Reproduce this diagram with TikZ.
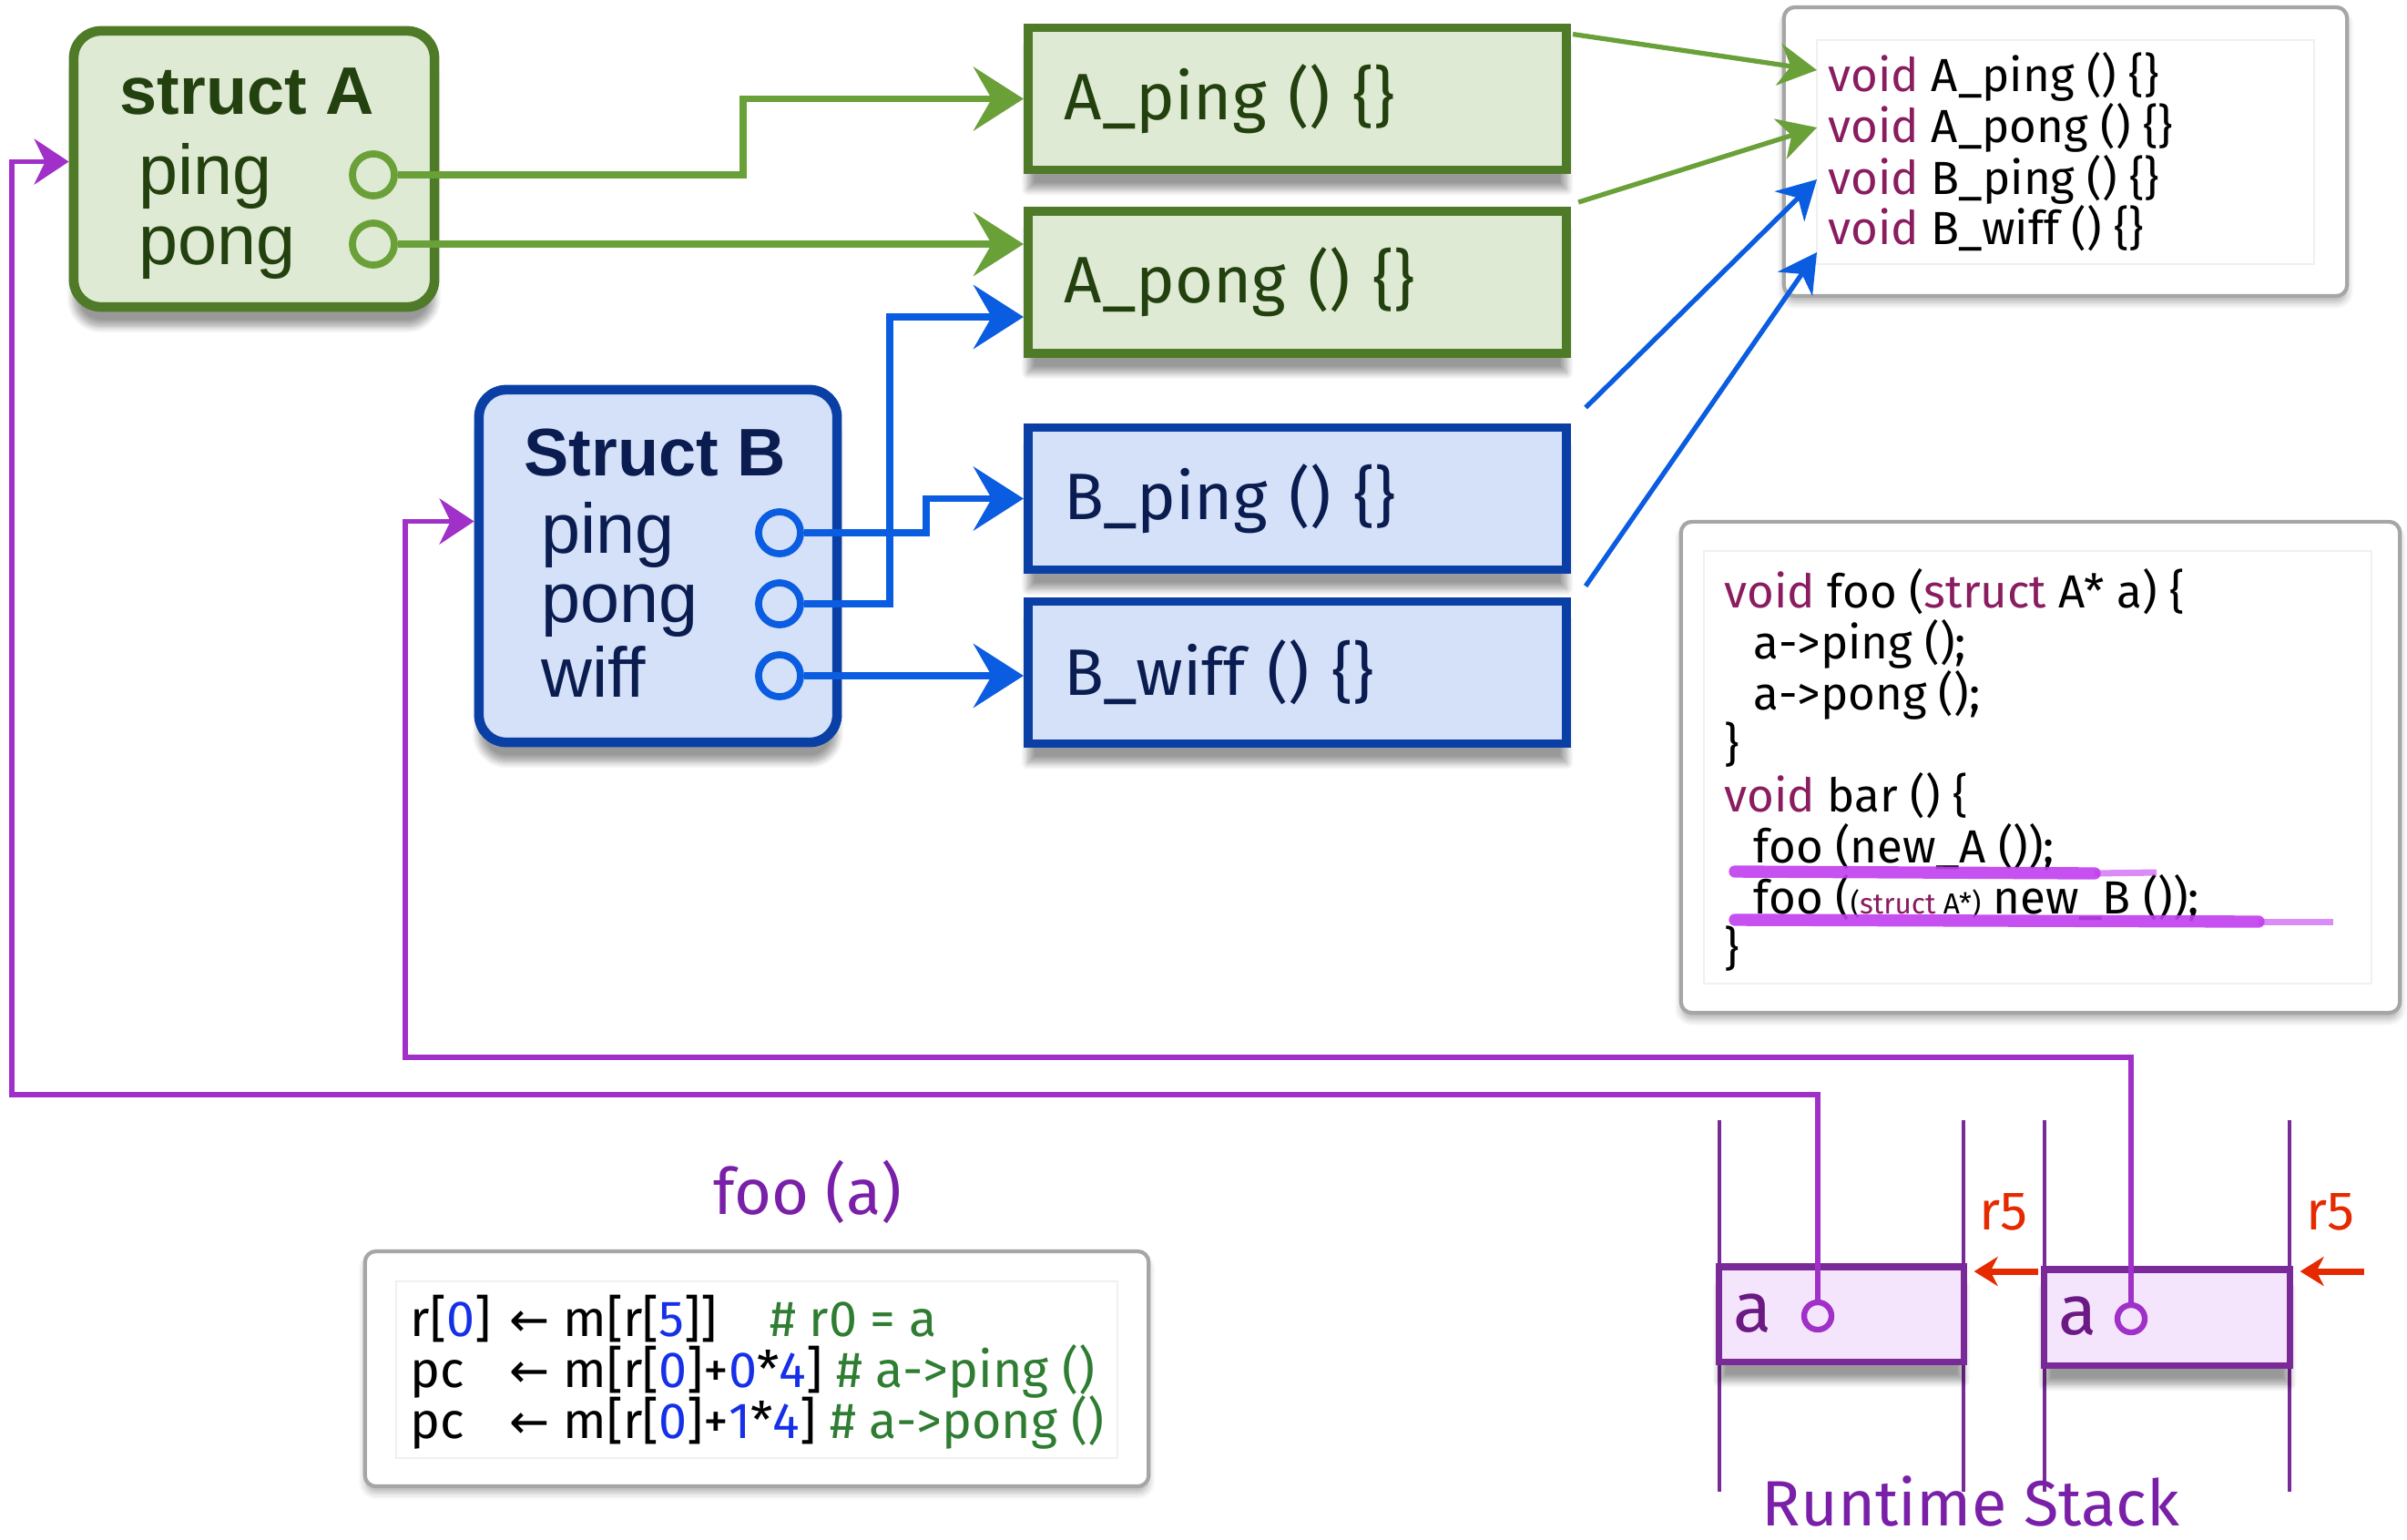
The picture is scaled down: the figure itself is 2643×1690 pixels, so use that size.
\documentclass[tikz,border=0pt]{standalone}
\usepackage{fontspec}
\setmainfont{Fira Sans}
\newfontfamily\helv{Liberation Sans}
\newfontfamily\dejavu{DejaVu Sans}
\usetikzlibrary{arrows.meta,shadows.blur,calc}
\definecolor{gborder}{HTML}{4F7A28}
\definecolor{gline}{HTML}{6AA038}
\definecolor{gfill}{HTML}{DEEAD3}
\definecolor{gtext}{HTML}{23400F}
\definecolor{bborder}{HTML}{0A3FA6}
\definecolor{bline}{HTML}{0A5CE0}
\definecolor{bfill}{HTML}{D4E1F8}
\definecolor{btext}{HTML}{0A1C50}
\definecolor{pline}{HTML}{A030C8}
\definecolor{pborder}{HTML}{7A2A98}
\definecolor{pfill}{HTML}{F5E5FC}
\definecolor{ptext}{HTML}{6A1A82}
\definecolor{ptitle}{HTML}{7A20A8}
\definecolor{kw}{HTML}{8A1C60}
\definecolor{cmt}{HTML}{2E7D32}
\definecolor{num}{HTML}{1530E8}
\definecolor{rred}{HTML}{E52A00}
\definecolor{hl}{HTML}{C23EF0}
\newcommand{\kwd}[1]{\textcolor{kw}{#1}}
\newcommand{\nm}[1]{\textcolor{num}{#1}}
\newcommand{\cm}[1]{\textcolor{cmt}{#1}}
\newcommand{\larr}{{\dejavu\fontsize{15}{16}\selectfont ←}\hspace{0.15cm}}
\tikzset{
  shad/.style={blur shadow={shadow xshift=0pt,shadow yshift=-6pt,shadow opacity=40,shadow blur steps=10}},
  fn/.style={draw,line width=2.8pt,minimum width=5.91cm,minimum height=1.56cm,text width=5.11cm,inner xsep=0.4cm,align=left,font=\fontsize{20.5}{24}\selectfont,shad},
  gfn/.style={fn,draw=gborder,fill=gfill,text=gtext},
  bfn/.style={fn,draw=bborder,fill=bfill,text=btext},
  structbox/.style={draw,line width=3pt,rounded corners=0.3cm,shad},
  sttitle/.style={anchor=base west,inner sep=0pt,font=\helv\bfseries\fontsize{21}{24}\selectfont},
  stfield/.style={anchor=base west,inner sep=0pt,font=\helv\fontsize{22}{24}\selectfont},
  port/.style={circle,line width=2.2pt,minimum size=0.46cm,inner sep=0pt},
  gconn/.style={draw=gline,line width=2.2pt,-{Stealth[length=0.55cm,width=0.7cm,inset=0.2cm]}},
  bconn/.style={draw=bline,line width=2.2pt,-{Stealth[length=0.55cm,width=0.7cm,inset=0.2cm]}},
  vconn/.style={line width=1.5pt,-{Stealth[length=0.42cm,width=0.46cm,inset=0.13cm]}},
  pconn/.style={draw=pline,line width=1.6pt,-{Stealth[length=0.38cm,width=0.5cm,inset=0.12cm]}},
  rarrow/.style={draw=rred,line width=2pt,-{Stealth[length=0.26cm,width=0.32cm,inset=0.08cm]}},
  codebox/.style={draw=black!35,fill=white,line width=1.2pt,rounded corners=0.12cm,blur shadow={shadow xshift=0pt,shadow yshift=-2pt,shadow opacity=30,shadow blur steps=6}},
  innerbox/.style={draw=black!6,line width=0.6pt},
  codeline/.style={anchor=base west,inner sep=0pt,font=\fontsize{14.5}{16}\selectfont},
  asmline/.style={anchor=base west,inner sep=0pt,font=\fontsize{15.8}{17}\selectfont},
  stackbox/.style={draw=pborder,fill=pfill,line width=2pt,shad},
  stackline/.style={draw=pborder,line width=0.9pt},
}
\begin{document}
\begin{tikzpicture}[x=0.01cm,y=-0.01cm]
\useasboundingbox (0,0) rectangle (2643,1690);
% ---------- code boxes ----------
\node[codebox,minimum width=6.18cm,minimum height=3.17cm] (vt) at (2268,166.5) {};
\node[innerbox,minimum width=5.46cm,minimum height=2.46cm] (vtin) at (2268,167) {};
\node[codeline] (v1) at (2007,100) {\kwd{void} A\_ping () \{\}};
\node[codeline] (v2) at (2007,156) {\kwd{void} A\_pong () \{\}};
\node[codeline] (v3) at (2007,213) {\kwd{void} B\_ping () \{\}};
\node[codeline] (v4) at (2007,268) {\kwd{void} B\_wiff () \{\}};

\node[codebox,minimum width=7.89cm,minimum height=5.39cm] (code) at (2240.5,842.5) {};
\node[innerbox,minimum width=7.33cm,minimum height=4.75cm] (codein) at (2237.5,842.5) {};
\node[codeline] (c1) at (1893,667) {\kwd{void} foo (\kwd{struct} A* a) \{};
\node[codeline] (c2) at (1925,723) {a->ping ();};
\node[codeline] (c3) at (1925,779) {a->pong ();};
\node[codeline] (c4) at (1893,835) {\}};
\node[codeline] (c5) at (1893,891) {\kwd{void} bar () \{};
\node[codeline] (c6) at (1925,947) {foo (new\_A ());};
\node[codeline] (c7) at (1925,1003) {foo ({\fontsize{9}{10}\selectfont(\kwd{struct} A*)} new\_B ());};
\node[codeline] (c8) at (1893,1059) {\}};
\draw[hl,line width=3.8pt,line cap=round,opacity=0.9] (1905,957) -- (2300,959);
\draw[hl,line width=2pt,opacity=0.6] (2300,959) -- (2368,958);
\draw[hl,line width=3.8pt,line cap=round,opacity=0.9] (1905,1010) -- (2480,1012);
\draw[hl,line width=2pt,opacity=0.6] (2480,1012) -- (2562,1012);

\node[codebox,minimum width=8.6cm,minimum height=2.58cm] (asm) at (831,1503) {};
\node[innerbox,minimum width=7.92cm,minimum height=1.94cm] (asmin) at (831,1504) {};
\node[asmline] (m1) at (450,1467) {\makebox[1.09cm][l]{r[\nm{0}]}\larr\makebox[2.26cm][l]{m[r[\nm{5}]]}\cm{\# r0 = a}};
\node[asmline] (m2) at (450,1523) {\makebox[1.09cm][l]{pc}\larr m[r[\nm{0}]+\nm{0}*\nm{4}] \cm{\# a->ping ()}};
\node[asmline] (m3) at (450,1579) {\makebox[1.09cm][l]{pc}\larr m[r[\nm{0}]+\nm{1}*\nm{4}] \cm{\# a->pong ()}};
\node[anchor=base,text=ptitle,font=\fontsize{20}{24}\selectfont,inner sep=0pt] (fooa) at (887,1333) {foo (a)};

% ---------- function boxes ----------
\node[gfn] (Aping) at (1424.5,108.5) {A\_ping () \{\}};
\node[gfn] (Apong) at (1424.5,310) {A\_pong () \{\}};
\node[bfn] (Bping) at (1424.5,547.5) {B\_ping () \{\}};
\node[bfn] (Bwiff) at (1424.5,738.5) {B\_wiff () \{\}};

% ---------- struct boxes ----------
\node[structbox,draw=gborder,fill=gfill,minimum width=3.96cm,minimum height=3.03cm] (SA) at (279,185.5) {};
\node[sttitle,text=gtext] (SAt) at (131,125) {struct A};
\node[stfield,text=gtext] (SAf1) at (152,213) {ping};
\node[stfield,text=gtext] (SAf2) at (152,290) {pong};

\node[structbox,draw=bborder,fill=bfill,minimum width=3.93cm,minimum height=3.87cm] (SB) at (722.5,621.5) {};
\node[sttitle,text=btext] (SBt) at (575,522) {Struct B};
\node[stfield,text=btext] (SBf1) at (594,607) {ping};
\node[stfield,text=btext] (SBf2) at (594,683) {pong};
\node[stfield,text=btext] (SBf3) at (594,765) {wiff};

% ---------- stack ----------
\draw[stackline] (1888,1230) -- (1888,1638);
\draw[stackline] (2156,1230) -- (2156,1638);
\draw[stackline] (2245,1230) -- (2245,1638);
\draw[stackline] (2514,1230) -- (2514,1638);
\node[stackbox,minimum width=2.68cm,minimum height=1.04cm] (sb1) at (2022,1443) {};
\node[stackbox,minimum width=2.69cm,minimum height=1.05cm] (sb2) at (2379.5,1446.5) {};
\node[anchor=base west,inner sep=0pt,text=ptext,font=\fontsize{22}{24}\selectfont] (a1) at (1903,1462) {a};
\node[anchor=base west,inner sep=0pt,text=ptext,font=\fontsize{22}{24}\selectfont] (a2) at (2260,1465) {a};
\node[anchor=base,inner sep=0pt,text=rred,font=\fontsize{17}{20}\selectfont] (r51) at (2200,1350) {r5};
\node[anchor=base,inner sep=0pt,text=rred,font=\fontsize{17}{20}\selectfont] (r52) at (2559,1350) {r5};
\coordinate (ra1) at (2238,1396);
\coordinate (ra2) at (2596,1396);
\draw[rarrow] (ra1) -- ($(ra1 -| sb1.east)+(8,0)$);
\draw[rarrow] (ra2) -- ($(ra2 -| sb2.east)+(8,0)$);
\node[anchor=base,inner sep=0pt,text=ptitle,font=\fontsize{20}{24}\selectfont] (rts) at (2164,1675) {Runtime Stack};

% ---------- ports ----------
\node[port,draw=gline,fill=gfill] (cpa) at (410,192) {};
\node[port,draw=gline,fill=gfill] (cpb) at (410,268) {};
\node[port,draw=bline,fill=bfill] (cbp) at (856,585) {};
\node[port,draw=bline,fill=bfill] (cbo) at (856,663) {};
\node[port,draw=bline,fill=bfill] (cbw) at (856,742) {};

% ---------- connectors ----------
\coordinate (gx) at (816,0);
\draw[gconn] (cpa.east) -- (cpa.east -| gx) |- (Aping.west);
\draw[gconn] (cpb.east) -- (cpb.east -| Apong.west);
\coordinate (bx1) at (1017,0);
\coordinate (bx2) at (977,0);
\coordinate (apongin) at ($(Apong.west)+(0,38)$);
\draw[bconn] (cbp.east) -- (cbp.east -| bx1) |- (Bping.west);
\draw[bconn] (cbo.east) -- (cbo.east -| bx2) |- (apongin);
\draw[bconn] (cbw.east) -- (cbw.east -| Bwiff.west);

\coordinate (t1) at ($(v1.base west)+(-12,-23)$);
\coordinate (t2) at ($(v2.base west)+(-12,-16)$);
\coordinate (t3) at ($(v3.base west)+(-12,-16)$);
\coordinate (t4) at ($(v4.base west)+(-12,9)$);
\draw[vconn,gline] ($(Aping.north east)+(2,12)$) -- (t1);
\draw[vconn,gline] ($(Apong.north east)+(8,-5)$) -- (t2);
\draw[vconn,bline] ($(Bping.north east)+(16,-17)$) -- (t3);
\draw[vconn,bline] ($(Bwiff.north east)+(16,-12)$) -- (t4);

\node[port,draw=pline,fill=pfill,minimum size=0.3cm,line width=1.8pt] (cs1) at (1996,1445) {};
\node[port,draw=pline,fill=pfill,minimum size=0.3cm,line width=1.8pt] (cs2) at (2340,1448) {};
\coordinate (pp1) at (13,1202);
\coordinate (pp2) at (445,1161);
\coordinate (sain) at ($(SA.west)+(0,-8)$);
\coordinate (sbin) at ($(SB.west)+(0,-49)$);
\draw[pconn] (cs1.north) |- (pp1) |- (sain);
\draw[pconn] (cs2.north) |- (pp2) |- (sbin);
\end{tikzpicture}
\end{document}
